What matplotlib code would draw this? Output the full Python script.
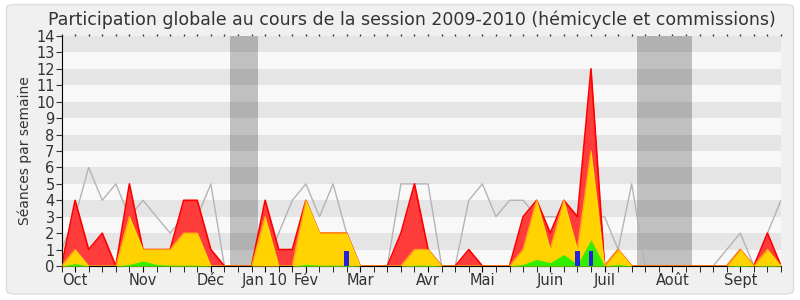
import matplotlib
matplotlib.use("Agg")
import matplotlib.pyplot as plt
from matplotlib.patches import FancyBboxPatch
import numpy as np

# weekly values, oct 2009 -> sept 2010
weeks = np.arange(54)
total = [0, 4, 1, 2, 0, 5, 1, 1, 1, 4, 4, 1, 0, 0, 0, 4, 1, 1, 4, 2,
         2, 2, 0, 0, 0, 2, 5, 1, 0, 0, 1, 0, 0, 0, 3, 4, 2, 4, 3, 12,
         0, 1, 0, 0, 0, 0, 0, 0, 0, 0, 1, 0, 2, 0]
hemicycle = [0, 1, 0, 0, 0, 3, 1, 1, 1, 2, 2, 0, 0, 0, 0, 3, 0, 0, 4, 2,
             2, 2, 0, 0, 0, 0, 1, 1, 0, 0, 0, 0, 0, 0, 1, 4, 1, 4, 1, 7,
             0, 1, 0, 0, 0, 0, 0, 0, 0, 0, 1, 0, 1, 0]
commission = [0, 0.15, 0, 0, 0, 0.1, 0.3, 0.1, 0.05, 0.05, 0.05, 0, 0, 0, 0, 0, 0, 0, 0.1, 0.05,
              0.05, 0.05, 0, 0, 0, 0, 0.05, 0.05, 0, 0, 0, 0, 0, 0, 0.1, 0.4, 0.2, 0.7, 0.1, 1.6,
              0, 0.1, 0, 0, 0, 0, 0, 0, 0, 0, 0.05, 0, 0.05, 0]
mediane = [1, 3, 6, 4, 5, 3, 4, 3, 2, 3, 3, 5, 0, 0, 0, 0, 2, 4, 5, 3,
           5, 2, 0, 0, 0, 5, 5, 5, 0, 0, 4, 5, 3, 4, 4, 3, 3, 3, 3, 3,
           3, 1, 5, 0, 0, 0, 0, 0, 0, 1, 2, 0, 2, 4]
questions_x = [21, 38, 39]
questions = [0.9, 0.9, 0.9]

mois_pos = [1, 6, 11, 15, 18, 22, 27, 31, 36, 40, 45, 50]
mois = ["Oct", "Nov", "Déc", "Jan 10", "Fév", "Mar", "Avr", "Mai", "Juin", "Juil", "Août", "Sept"]
vacances = [(12.4, 14.45), (42.4, 46.43)]

fig = plt.figure(figsize=(8, 3), dpi=100)
fig.patch.set_facecolor("white")
fig.patches.append(FancyBboxPatch((0.008, 0.02), 0.984, 0.965, boxstyle="round,pad=0,rounding_size=0.012",
                                  transform=fig.transFigure, facecolor="#f0f0f0", edgecolor="#dddddd",
                                  linewidth=1, zorder=-10))

ax = fig.add_axes([0.0769, 0.1133, 0.8994, 0.7667])
ax.set_facecolor("#f8f8f8")

# vacations then horizontal stripes on top
for a, b in vacances:
    ax.axvspan(a, b, color="#c0c0c0", lw=0, zorder=0.5)
for k in range(1, 14, 2):
    ax.axhspan(k, k + 1, color="black", alpha=0.075, lw=0, zorder=0.6)

ax.plot(weeks, mediane, color="#b4b4b4", lw=1, zorder=1)
ax.fill_between(weeks, total, color="#ff3c3c", lw=0, zorder=2)
ax.plot(weeks, total, color="#ff0000", lw=1.2, zorder=2.1)
ax.fill_between(weeks, hemicycle, color="#ffd200", lw=0, zorder=3)
ax.plot(weeks, hemicycle, color="#ffee00", lw=1, alpha=0.6, zorder=3.1)
ax.fill_between(weeks, commission, color="#33ee00", lw=0, zorder=4)
ax.bar(questions_x, questions, width=0.33, color="#2222dd", zorder=5)

ax.set_xlim(0, 53)
ax.set_ylim(0, 14)
ax.set_yticks(range(15))
ax.tick_params(axis="y", labelsize=10.5, length=4, pad=1, colors="#333333")
ax.set_xticks(weeks, minor=True)
ax.set_xticks(mois_pos)
ax.set_xticklabels(mois)
ax.tick_params(axis="x", which="both", length=4, bottom=True, top=False, direction="out")
ax.tick_params(axis="x", which="major", labelsize=10.5, pad=1, colors="#333333")
ax.xaxis.set_tick_params(which="both", color="black")

# small dotted marks along the top edge
ax2 = ax.secondary_xaxis("top")
ax2.set_xticks(weeks)
ax2.tick_params(length=1.5, width=1, color="#333333", labeltop=False, direction="out")
ax2.spines["top"].set_visible(False)

ax.set_ylabel("Séances par semaine", fontsize=10, color="#333333", labelpad=3)

for s in ["top", "right"]:
    ax.spines[s].set_visible(False)
ax.spines["left"].set_color("black")
ax.spines["bottom"].set_color("black")

fig.text(0.515, 0.935, "Participation globale au cours de la session 2009-2010 (hémicycle et commissions)",
         ha="center", va="center", fontsize=12.5, color="#333333")

fig.savefig("out.png", dpi=100)
